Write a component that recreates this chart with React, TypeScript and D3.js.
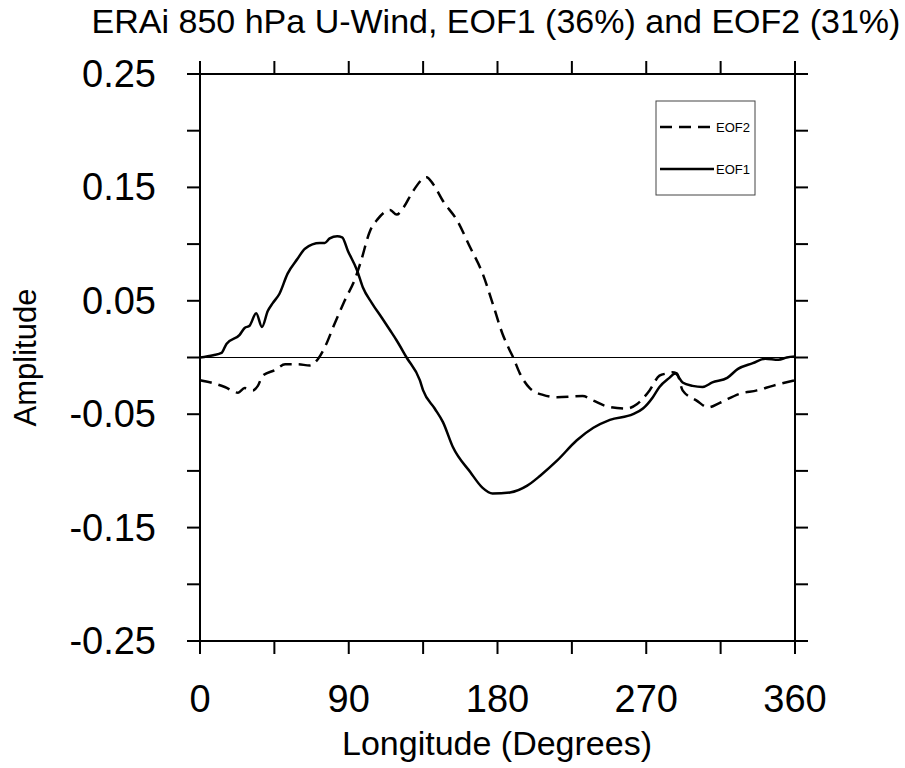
import React, { useRef, useEffect } from "react";
import * as d3 from "d3";

// EOF1 (solid) — longitude, amplitude
const eof1Lon = [0, 8, 13, 16, 24, 27, 30, 34, 37.5, 41, 44, 48, 53, 59, 63.5, 72.5, 75.5, 78.5, 83, 86, 89.5, 95, 98.5, 104, 110, 115, 119, 125, 133, 135, 142, 147, 153, 163.5, 171, 177, 187.5, 198, 206, 216, 228, 238, 248, 262, 268, 274, 278, 284, 287.5, 292, 298, 304, 310, 319, 325.5, 334.5, 342, 350, 355, 360];
const eof1Val = [0.0, 0.002, 0.004, 0.012, 0.02, 0.026, 0.028, 0.039, 0.027, 0.041, 0.048, 0.056, 0.074, 0.087, 0.096, 0.101, 0.101, 0.105, 0.107, 0.106, 0.094, 0.077, 0.062, 0.048, 0.035, 0.024, 0.015, 0.0, -0.02, -0.029, -0.045, -0.057, -0.079, -0.101, -0.115, -0.12, -0.119, -0.113, -0.104, -0.091, -0.073, -0.062, -0.055, -0.05, -0.045, -0.035, -0.026, -0.018, -0.014, -0.022, -0.025, -0.026, -0.022, -0.018, -0.01, -0.005, -0.001, -0.002, 0.0, 0.001];

// EOF2 (dashed)
const eof2Lon = [0, 6.5, 15, 23, 27, 32, 35, 38, 45.5, 51.5, 59, 66.5, 71.5, 75.5, 81.5, 87.5, 94, 97, 103, 107.5, 115, 119, 123, 129, 137, 141, 147, 155.5, 163.5, 171, 177, 183, 187.5, 189.5, 193.5, 199.5, 207.5, 216, 231.5, 238, 246, 258, 264.5, 272, 278, 282.5, 285.5, 288.5, 292, 300.5, 307.5, 314.5, 326.5, 337, 346.5, 360];
const eof2Val = [-0.02, -0.022, -0.026, -0.031, -0.027, -0.029, -0.025, -0.016, -0.011, -0.006, -0.006, -0.007, -0.001, 0.009, 0.03, 0.05, 0.07, 0.083, 0.112, 0.122, 0.13, 0.126, 0.132, 0.147, 0.159, 0.153, 0.138, 0.121, 0.097, 0.074, 0.048, 0.021, 0.006, 0.0, -0.014, -0.027, -0.033, -0.035, -0.034, -0.038, -0.043, -0.045, -0.041, -0.029, -0.016, -0.014, -0.013, -0.014, -0.029, -0.038, -0.044, -0.04, -0.032, -0.029, -0.025, -0.02];

const xTicks = [0, 45, 90, 135, 180, 225, 270, 315, 360];
const xLabels = [0, 90, 180, 270, 360];
const yTicks = [-0.25, -0.2, -0.15, -0.1, -0.05, 0, 0.05, 0.1, 0.15, 0.2, 0.25];
const yLabels = [-0.25, -0.15, -0.05, 0.05, 0.15, 0.25];

const titleText = "ERAi 850 hPa U-Wind, EOF1 (36%) and EOF2 (31%)";
const FONT = "'Liberation Sans', Arial, Helvetica, sans-serif";

export default function App() {
  const svgRef = useRef<SVGSVGElement>(null);

  useEffect(() => {
    const width = 905;
    const height = 768;
    const left = 200, right = 795, top = 74, bottom = 641;
    const tick = 13;

    const svg = d3.select(svgRef.current).attr("width", width).attr("height", height);
    svg.selectAll("*").remove();

    svg.append("rect").attr("width", width).attr("height", height).attr("fill", "white");

    const x = d3.scaleLinear().domain([0, 360]).range([left, right]);
    const y = d3.scaleLinear().domain([-0.25, 0.25]).range([bottom, top]);

    // zero reference line
    svg.append("line")
      .attr("x1", left).attr("x2", right)
      .attr("y1", y(0)).attr("y2", y(0))
      .attr("stroke", "black").attr("stroke-width", 1);

    const line = d3.line<[number, number]>()
      .x((d) => x(d[0]))
      .y((d) => y(d[1]))
      .curve(d3.curveMonotoneX);

    const eof1 = eof1Lon.map((l, i) => [l, eof1Val[i]] as [number, number]);
    const eof2 = eof2Lon.map((l, i) => [l, eof2Val[i]] as [number, number]);

    svg.append("path")
      .attr("d", line(eof2))
      .attr("fill", "none").attr("stroke", "black").attr("stroke-width", 2.5)
      .attr("stroke-dasharray", "12,7");

    svg.append("path")
      .attr("d", line(eof1))
      .attr("fill", "none").attr("stroke", "black").attr("stroke-width", 2.5);

    // frame
    svg.append("rect")
      .attr("x", left).attr("y", top)
      .attr("width", right - left).attr("height", bottom - top)
      .attr("fill", "none").attr("stroke", "black").attr("stroke-width", 2);

    // ticks on all four sides, pointing outward
    xTicks.forEach((t) => {
      svg.append("line").attr("x1", x(t)).attr("x2", x(t)).attr("y1", bottom).attr("y2", bottom + tick)
        .attr("stroke", "black").attr("stroke-width", 2);
      svg.append("line").attr("x1", x(t)).attr("x2", x(t)).attr("y1", top).attr("y2", top - tick)
        .attr("stroke", "black").attr("stroke-width", 2);
    });
    yTicks.forEach((t) => {
      svg.append("line").attr("x1", left).attr("x2", left - tick).attr("y1", y(t)).attr("y2", y(t))
        .attr("stroke", "black").attr("stroke-width", 2);
      svg.append("line").attr("x1", right).attr("x2", right + tick).attr("y1", y(t)).attr("y2", y(t))
        .attr("stroke", "black").attr("stroke-width", 2);
    });

    svg.selectAll("text.xl")
      .data(xLabels)
      .join("text")
      .attr("class", "xl")
      .attr("x", (d) => x(d))
      .attr("y", 712)
      .attr("text-anchor", "middle")
      .style("font-family", FONT)
      .style("font-size", "38px")
      .text((d) => String(d));

    // plain hyphen for negatives, as in the original
    const fmt = (v: number) => (v < 0 ? "-" : "") + Math.abs(v).toFixed(2);
    svg.selectAll("text.yl")
      .data(yLabels)
      .join("text")
      .attr("class", "yl")
      .attr("x", 156)
      .attr("y", (d) => y(d) + 13)
      .attr("text-anchor", "end")
      .style("font-family", FONT)
      .style("font-size", "38px")
      .text((d) => fmt(d));

    svg.append("text")
      .attr("x", 496).attr("y", 33)
      .attr("text-anchor", "middle")
      .style("font-family", FONT).style("font-size", "34px")
      .text(titleText);

    svg.append("text")
      .attr("x", 497).attr("y", 755)
      .attr("text-anchor", "middle")
      .style("font-family", FONT).style("font-size", "34px")
      .text("Longitude (Degrees)");

    svg.append("text")
      .attr("transform", `translate(36, ${(top + bottom) / 2}) rotate(-90)`)
      .attr("text-anchor", "middle")
      .style("font-family", FONT).style("font-size", "31px")
      .text("Amplitude");

    // legend
    const lg = svg.append("g");
    lg.append("rect")
      .attr("x", 656).attr("y", 101).attr("width", 99).attr("height", 94)
      .attr("fill", "white").attr("stroke", "#444").attr("stroke-width", 1);
    const items = [
      { label: "EOF2", dash: "12,7", yy: 127 },
      { label: "EOF1", dash: null, yy: 169 },
    ];
    items.forEach((it) => {
      const l = lg.append("line")
        .attr("x1", 660).attr("x2", 714).attr("y1", it.yy).attr("y2", it.yy)
        .attr("stroke", "black").attr("stroke-width", 2.5);
      if (it.dash) l.attr("stroke-dasharray", it.dash);
      lg.append("text")
        .attr("x", 716).attr("y", it.yy + 5)
        .style("font-family", FONT).style("font-size", "13px")
        .text(it.label);
    });
  }, []);

  return <svg ref={svgRef} style={{ position: "absolute", left: 0, top: 0 }}></svg>;
}
